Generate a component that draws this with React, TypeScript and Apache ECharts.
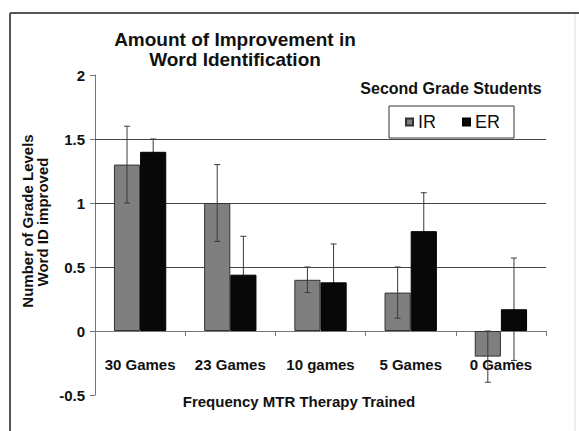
import React, { useEffect, useRef } from "react";
import * as echarts from "echarts";

const categories = ["30 Games", "23 Games", "10 games", "5 Games", "0 Games"];
const irValues = [1.3, 1.0, 0.4, 0.3, -0.2];
const irErrors = [0.3, 0.3, 0.1, 0.2, 0.2];
const erValues = [1.4, 0.44, 0.38, 0.78, 0.17];
const erErrors = [0.1, 0.3, 0.3, 0.3, 0.4];
const gridValues = [0.5, 1, 1.5];
const titleLines = ["Amount of Improvement in", "Word Identification"];
const yNameLines = ["Number of Grade Levels", "Word ID improved"];
const xName = "Frequency MTR Therapy Trained";
const subtitle = "Second Grade Students";

const FONT = "'Liberation Sans', Arial, sans-serif";
const CAT_GAP = 0.42;

function errorRender(params: any, api: any) {
  const i = api.value(0);
  const v = api.value(1);
  const e = api.value(2);
  const s = api.value(3);
  const c = api.coord([i, v]);
  const top = api.coord([i, v + e]);
  const bot = api.coord([i, v - e]);
  const band = api.size([1, 0])[0];
  const bw = (band * (1 - CAT_GAP)) / 2;
  const x = c[0] + (s === 0 ? -bw / 2 : bw / 2);
  const style = { stroke: "#3a3a3a", lineWidth: 1 };
  return {
    type: "group",
    children: [
      { type: "line", shape: { x1: x, y1: top[1], x2: x, y2: bot[1] }, style },
      { type: "line", shape: { x1: x - 3, y1: top[1], x2: x + 3, y2: top[1] }, style },
      { type: "line", shape: { x1: x - 3, y1: bot[1], x2: x + 3, y2: bot[1] }, style },
    ],
  };
}

export default function App() {
  const ref = useRef<HTMLDivElement>(null);
  useEffect(() => {
    if (!ref.current) return;
    const chart = echarts.init(ref.current, null, { renderer: "svg" });
    const irErrData = irValues.map((v, i) => [i, v, irErrors[i], 0]);
    const erErrData = erValues.map((v, i) => [i, v, erErrors[i], 1]);

    const option: any = {
      animation: false,
      backgroundColor: "#fff",
      grid: { left: 95, right: 33, top: 75, bottom: 36, containLabel: false, outerBoundsMode: "none" },
      legend: {
        data: ["IR", "ER"],
        left: 389,
        top: 106,
        icon: "rect",
        itemWidth: 7,
        itemHeight: 7,
        itemGap: 26,
        padding: [7, 14, 7, 16],
        borderColor: "#333",
        borderWidth: 1,
        backgroundColor: "#fff",
        textStyle: { fontFamily: FONT, fontSize: 18, color: "#111" },
      },
      xAxis: {
        type: "category",
        data: categories,
        position: "bottom",
        offset: -64,
        axisLine: { onZero: false, lineStyle: { color: "#777", width: 1 } },
        axisTick: { show: true, length: 5, lineStyle: { color: "#777" } },
        axisLabel: {
          interval: 0,
          margin: 26,
          fontFamily: FONT,
          fontSize: 15,
          fontWeight: "bold",
          color: "#111",
          hideOverlap: false,
        },
      },
      yAxis: {
        type: "value",
        min: -0.5,
        max: 2,
        interval: 0.5,
        axisLine: { show: true, lineStyle: { color: "#777", width: 1 } },
        axisTick: { show: true, length: 5, lineStyle: { color: "#777" } },
        splitLine: { show: false },
        axisLabel: {
          margin: 10,
          fontFamily: FONT,
          fontSize: 15,
          fontWeight: "bold",
          color: "#111",
        },
      },
      series: [
        {
          name: "IR",
          type: "bar",
          z: 3,
          data: irValues,
          barGap: "0%",
          barCategoryGap: CAT_GAP * 100 + "%",
          itemStyle: { color: "#7f7f7f", borderColor: "#333", borderWidth: 1 },
          markLine: {
            silent: true,
            z: 1,
            symbol: "none",
            label: { show: false },
            lineStyle: { color: "#444", width: 1, type: "solid" },
            data: gridValues.map((g) => ({ yAxis: g })),
          },
        },
        {
          name: "ER",
          type: "bar",
          z: 3,
          data: erValues,
          barGap: "0%",
          barCategoryGap: CAT_GAP * 100 + "%",
          itemStyle: { color: "#080808", borderColor: "#000", borderWidth: 1 },
        },
        {
          type: "custom",
          z: 5,
          data: irErrData,
          encode: { x: 0, y: 1 },
          renderItem: errorRender,
        },
        {
          type: "custom",
          z: 2,
          data: erErrData,
          encode: { x: 0, y: 1 },
          renderItem: errorRender,
        },
      ],
      graphic: [
        { type: "line", shape: { x1: 10, y1: 13, x2: 579, y2: 13 }, style: { stroke: "#555", lineWidth: 2 } },
        { type: "line", shape: { x1: 10, y1: 13, x2: 10, y2: 431 }, style: { stroke: "#555", lineWidth: 2 } },
        { type: "line", shape: { x1: 575, y1: 14, x2: 575, y2: 431 }, style: { stroke: "#ddd", lineWidth: 1 } },
        {
          type: "text",
          x: 235,
          y: 39,
          style: { text: titleLines[0], align: "center", verticalAlign: "middle", font: `bold 19px ${FONT}`, fill: "#111" },
        },
        {
          type: "text",
          x: 235,
          y: 59,
          style: { text: titleLines[1], align: "center", verticalAlign: "middle", font: `bold 19px ${FONT}`, fill: "#111" },
        },
        {
          type: "text",
          x: 451,
          y: 88,
          style: { text: subtitle, align: "center", verticalAlign: "middle", font: `bold 16px ${FONT}`, fill: "#111" },
        },
        {
          type: "text",
          x: 299,
          y: 401,
          style: { text: xName, align: "center", verticalAlign: "middle", font: `bold 15px ${FONT}`, fill: "#111" },
        },
        {
          type: "text",
          x: 27,
          y: 221,
          rotation: Math.PI / 2,
          style: { text: yNameLines[0], align: "center", verticalAlign: "middle", font: `bold 15px ${FONT}`, fill: "#111" },
        },
        {
          type: "text",
          x: 42,
          y: 222,
          rotation: Math.PI / 2,
          style: { text: yNameLines[1], align: "center", verticalAlign: "middle", font: `bold 15px ${FONT}`, fill: "#111" },
        },
      ],
    };
    chart.setOption(option);
    return () => chart.dispose();
  }, []);
  return (
    <div
      ref={ref}
      style={{ position: "fixed", left: 0, top: 0, width: 579, height: 431 }}
    />
  );
}
